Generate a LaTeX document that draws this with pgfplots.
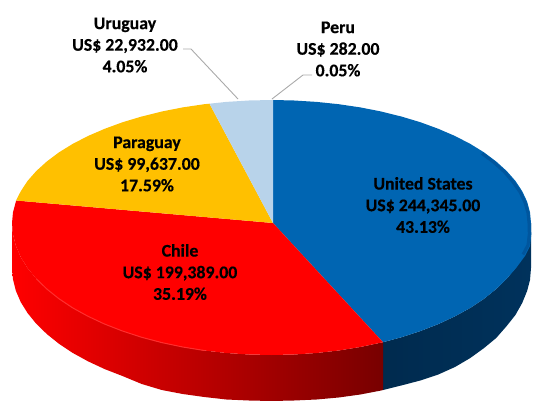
\documentclass[border=0pt]{standalone}
\usepackage{pgfplots}
\pgfplotsset{compat=1.18}
\usepackage{fontspec}
\setmainfont[BoldFeatures={FakeBold=0.4}]{Carlito}
\definecolor{cblue}{RGB}{0,101,178}
\definecolor{cblueedge}{RGB}{0,86,158}
\definecolor{cnavy}{RGB}{0,50,92}
\definecolor{cred}{RGB}{255,0,0}
\definecolor{credhi}{RGB}{255,45,45}
\definecolor{cgold}{RGB}{255,192,0}
\definecolor{clight}{RGB}{184,211,234}
\definecolor{cgrey}{RGB}{170,170,170}
\newcommand{\lab}[3]{\node[align=center,inner sep=0pt,text=black,font=\fontsize{17.8}{21.6}\selectfont\bfseries] at (axis cs:#1,#2) {#3};}
\begin{document}
\begin{tikzpicture}
\begin{axis}[scale only axis,width=533pt,height=401pt,xmin=0,xmax=533,ymin=0,ymax=401,y dir=reverse,hide axis,clip=false]
\addplot[draw=none,forget plot] coordinates {(0,0)(533,401)};
\path (axis cs:0,0) rectangle (axis cs:533,401);
% side wall, blue
\addplot[draw=none,left color=cnavy!85!black,right color=cnavy] coordinates {
(531,223)(530,234.5)(527.1,245.9)(522.2,257.2)(515.4,268.1)(506.7,278.8)(496.2,289)(484.1,298.7)(470.3,307.9)(455,316.3)(438.3,324.1)(420.3,331.1)(401.25,337.3)(383,342.2)
(383,390)(401.25,385.5)(420.3,380.5)(438.3,374.5)(455,367)(470.3,358)(484.1,348)(496.2,338)(506.7,326)(515.4,315)(522.2,303)(527.1,291)(530,280)(531,268)
} -- cycle;
% side wall, red
\addplot[draw=none,left color=red,middle color=red!72!black,right color=red!47!black] coordinates {
(383,342.2)(381.2,342.6)(360.3,347)(338.7,350.5)(316.6,353)(294.1,354.5)(271.5,355)(248.9,354.5)(226.4,353)(204.3,350.5)(182.7,347)(161.8,342.6)(141.75,337.3)(122.7,331.1)(104.7,324.1)(88,316.3)(72.7,307.9)(58.9,298.7)(46.8,289)(36.3,278.8)(27.6,268.1)(20.8,257.2)(15.9,245.9)(13,234.5)(12,223)
(12,268)(13,279.5)(15.9,290.9)(20.8,302.2)(27.6,313.1)(36.3,323.8)(46.8,334)(58.9,343.7)(72.7,352.9)(88,361.3)(104.7,369.1)(122.7,376.1)(141.75,384)(161.8,390)(182.7,394)(204.3,397)(226.4,399.5)(248.9,400.5)(271.5,401)(294.1,400.5)(316.6,399.5)(338.7,397.5)(360.3,394.5)(381.2,390.5)(383,390)
} -- cycle;
% top faces
\addplot[draw=none,fill=cblue] coordinates {
(273,223)(273,100)(294.1,100.5)(316.6,101.9)(338.7,104.2)(360.3,107.4)(381.2,111.5)(401.25,116.5)(420.3,122.2)(438.3,128.8)(455,136)(470.3,143.9)(484.1,152.4)(496.2,161.5)(506.7,171)(515.4,180.9)(522.2,191.2)(527.1,201.6)(530,212.3)(531,223)(531.3,234.5)(530,246)(525,256)(516.5,267.5)(506.7,278.8)(496.2,289)(484.1,298.7)(470.3,307.9)(455,316.3)(438.3,324.1)(420.3,331.1)(401.25,337.3)(383,342.2)
} -- cycle;
% darker rim of the blue face
\addplot[cblueedge,line width=3pt] coordinates {
(482,153.5)(494,162.5)(504.5,172)(513,182)(520,192)(525,202.5)(528,213)(529,223)(529.3,234)(528,245)(523,254.5)
};
\addplot[draw=none,fill=cred] coordinates {
(273,223)(383,342.2)(381.2,342.6)(360.3,347)(338.7,350.5)(316.6,353)(294.1,354.5)(271.5,355)(248.9,354.5)(226.4,353)(204.3,350.5)(182.7,347)(161.8,342.6)(141.75,337.3)(122.7,331.1)(104.7,324.1)(88,316.3)(72.7,307.9)(58.9,298.7)(46.8,289)(36.3,278.8)(27.6,268.1)(20.8,257.2)(15.9,245.9)(13,234.5)(12,223)(13,212.3)(15.9,201.6)(16,200.5)
} -- cycle;
% soft highlight along the red rim
\addplot[credhi,line width=1pt] coordinates {
(36.3,278.8)(46.8,289)(58.9,298.7)(72.7,307.9)(88,316.3)(104.7,324.1)(122.7,331.1)(141.75,337.3)(161.8,342.6)(182.7,347)(204.3,350.5)
};
\addplot[draw=none,fill=cgold] coordinates {
(273,223)(16,200.5)(20.8,191.2)(27.6,180.9)(36.3,171)(46.8,161.5)(58.9,152.4)(72.7,143.9)(88,136)(104.7,128.8)(122.7,122.2)(141.75,116.5)(161.8,111.5)(182.7,107.4)(204.3,104.2)(209.5,103.7)
} -- cycle;
\addplot[draw=none,fill=clight] coordinates {
(273,223)(209.5,103.7)(226.4,101.9)(248.9,100.5)(271.5,100)(273,100)
} -- cycle;
% leader lines
\addplot[cgrey,line width=0.9pt] coordinates {(183,49)(191,49)(238,99)};
\addplot[cgrey,line width=0.9pt] coordinates {(312,75)(303,75)(272,99)};
\lab{125}{45}{Uruguay\\US\$ 22,932.00\\4.05\%}
\lab{338}{49}{Peru\\US\$ 282.00\\0.05\%}
\lab{147}{164}{Paraguay\\US\$ 99,637.00\\17.59\%}
\lab{423}{205}{United States\\US\$ 244,345.00\\43.13\%}
\lab{180}{272}{Chile\\US\$ 199,389.00\\35.19\%}
\end{axis}
\end{tikzpicture}
\end{document}
